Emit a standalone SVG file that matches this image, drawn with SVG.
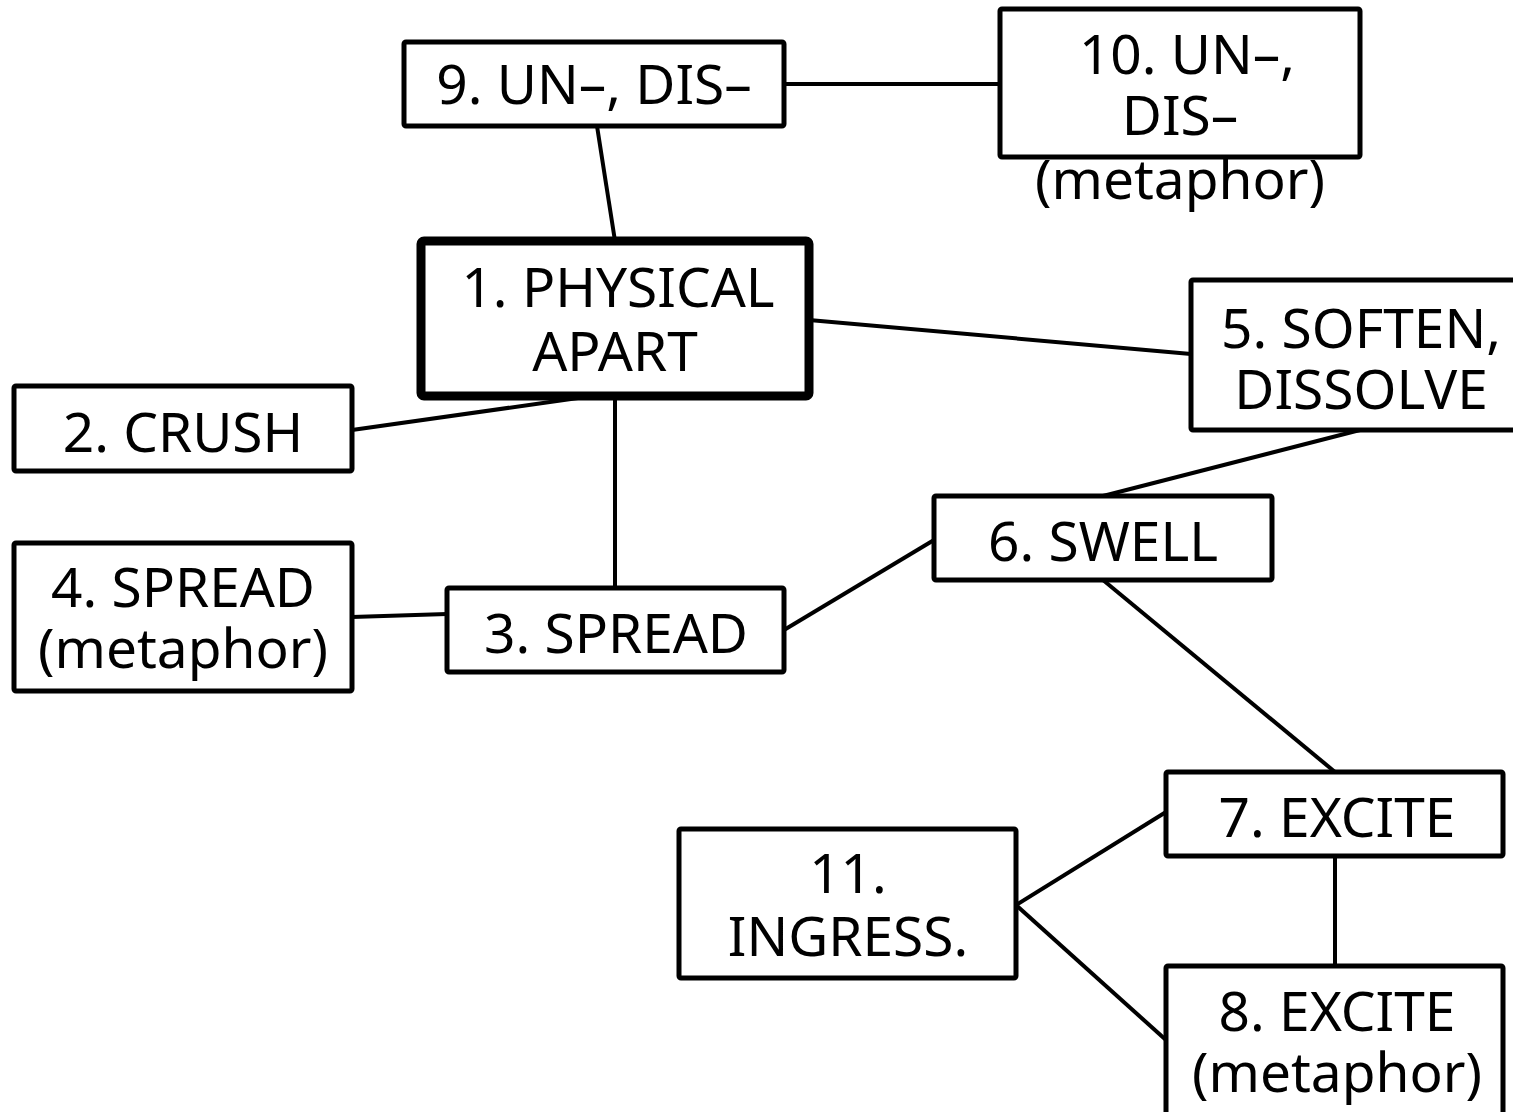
<svg xmlns="http://www.w3.org/2000/svg" width="1513" height="1112" viewBox="0 0 1513 1112">
  <style>
    .box { fill: #fff; stroke: #000; stroke-width: 5; stroke-linejoin: round; }
    .main { stroke-width: 9; }
    .lbl { font-family: "Noto Sans", "Open Sans", sans-serif; font-size: 55px; fill: #000; text-anchor: middle; }
    .edge { stroke: #000; stroke-width: 4; fill: none; }
  </style>
  <rect width="1513" height="1112" fill="#fff"/>

  <!-- connectors -->
  <g id="connectors">
    <line class="edge" x1="784" y1="84" x2="1000" y2="84"/>
    <line class="edge" x1="597" y1="126" x2="615" y2="241"/>
    <line class="edge" x1="809" y1="320" x2="1191" y2="354"/>
    <line class="edge" x1="352" y1="430" x2="592" y2="396"/>
    <line class="edge" x1="615" y1="396" x2="615" y2="588"/>
    <line class="edge" x1="352" y1="617" x2="447" y2="614"/>
    <line class="edge" x1="784" y1="630" x2="934" y2="540"/>
    <line class="edge" x1="1360" y1="430" x2="1103" y2="496"/>
    <line class="edge" x1="1103" y1="580" x2="1335" y2="772"/>
    <line class="edge" x1="1335" y1="856" x2="1335" y2="966"/>
    <line class="edge" x1="1016" y1="905" x2="1166" y2="812"/>
    <line class="edge" x1="1016" y1="905" x2="1166" y2="1040"/>
  </g>

  <g id="n9">
    <rect class="box" x="404" y="42" width="380" height="84" rx="2"/>
    <text class="lbl" x="594" y="104">9. UN–, DIS–</text>
  </g>
  <g id="n10">
    <rect class="box" x="1000" y="9" width="360" height="148" rx="2"/>
    <text class="lbl" y="74"><tspan x="1187">10. UN–,</tspan><tspan x="1180" dy="61">DIS–</tspan><tspan x="1180" dy="64">(metaphor)</tspan></text>
  </g>
  <g id="n1">
    <rect class="box main" x="421" y="241" width="388" height="155" rx="3"/>
    <text class="lbl" y="307"><tspan x="618">1. PHYSICAL</tspan><tspan x="615" dy="64">APART</tspan></text>
  </g>
  <g id="n5">
    <rect class="box" x="1191" y="280" width="340" height="150" rx="2"/>
    <text class="lbl" x="1361" y="348">5. SOFTEN,<tspan x="1361" dy="61">DISSOLVE</tspan></text>
  </g>
  <g id="n2">
    <rect class="box" x="14" y="386" width="338" height="85" rx="2"/>
    <text class="lbl" x="183" y="452">2. CRUSH</text>
  </g>
  <g id="n4">
    <rect class="box" x="14" y="543" width="338" height="148" rx="2"/>
    <text class="lbl" x="183" y="607">4. SPREAD<tspan x="183" dy="61">(metaphor)</tspan></text>
  </g>
  <g id="n3">
    <rect class="box" x="447" y="588" width="337" height="84" rx="2"/>
    <text class="lbl" x="616" y="653">3. SPREAD</text>
  </g>
  <g id="n6">
    <rect class="box" x="934" y="496" width="338" height="84" rx="2"/>
    <text class="lbl" x="1103" y="561">6. SWELL</text>
  </g>
  <g id="n7">
    <rect class="box" x="1166" y="772" width="337" height="84" rx="2"/>
    <text class="lbl" x="1337" y="837">7. EXCITE</text>
  </g>
  <g id="n11">
    <rect class="box" x="679" y="829" width="337" height="149" rx="2"/>
    <text class="lbl" x="848" y="893">11.<tspan x="848" dy="63">INGRESS.</tspan></text>
  </g>
  <g id="n8">
    <rect class="box" x="1166" y="966" width="337" height="170" rx="2"/>
    <text class="lbl" x="1337" y="1031">8. EXCITE<tspan x="1337" dy="61">(metaphor)</tspan></text>
  </g>
</svg>
